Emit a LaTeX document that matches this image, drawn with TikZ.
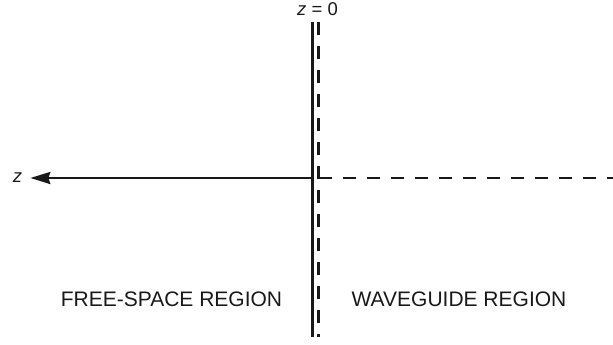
\documentclass[tikz,border=0pt]{standalone}
\usepackage{fontspec}
\setmainfont{Liberation Sans}
\usetikzlibrary{arrows.meta}

\begin{document}
\begin{tikzpicture}[
    x=1pt, y=-1pt,
    wall/.style={draw=black!90, line width=2.4pt},
    guide/.style={draw=black!90, line width=2.4pt, dash pattern=on 13pt off 11pt},
    region/.style={font=\fontsize{21}{25}\selectfont, text=black!90,
        inner sep=0pt, anchor=base},
    axislabel/.style={font=\fontsize{18.5}{22}\selectfont, text=black!90,
        inner sep=0pt},
]
    \useasboundingbox (0, 0) rectangle (613, 345);

    %% the interface at z = 0: the solid wall, the guide's dashed edge beside it
    \coordinate (wall top) at (312.5, 22);
    \coordinate (wall bottom) at (312.5, 337);
    \coordinate (guide top) at (318.5, 22);
    \coordinate (guide bottom) at (318.5, 337);
    \draw[wall] (wall top) -- (wall bottom);
    \draw[guide] (guide top) -- (guide bottom);
    \node[axislabel, anchor=base] (zero) at (317.5, 16) {\textit{z} = 0};

    %% the z axis, pointing out into free space
    \coordinate (origin) at (312.5, 178);
    \node[axislabel] (z) at (17.5, 178) {\textit{z}};
    \draw[wall, -{Stealth[length=20pt, width=12pt, inset=2pt]},
        shorten >=8pt] (origin) -- (z);

    %% the guide's axis, dashed, out to the right edge
    \coordinate (axis start) at (318.5, 178);
    \coordinate (axis end) at (613, 178);
    \draw[guide] (axis start) -- (axis end);

    %% the two regions
    \node[region] (free space) at (171.5, 306) {FREE-SPACE REGION};
    \node[region] (waveguide) at (459, 306) {WAVEGUIDE REGION};
\end{tikzpicture}
\end{document}
